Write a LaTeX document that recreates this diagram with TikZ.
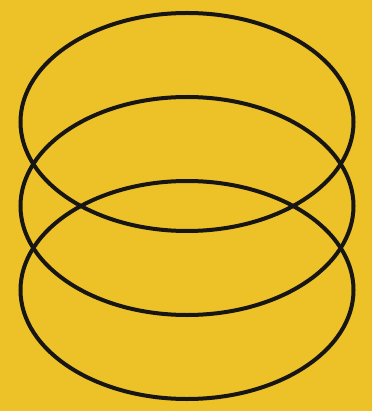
\documentclass[tikz,border=0pt]{standalone}
\definecolor{bgyellow}{RGB}{236,194,40}
\definecolor{ringcol}{RGB}{24,22,20}
\tikzset{ring/.style={draw=ringcol,line width=4pt}}
\begin{document}
\begin{tikzpicture}[x=1pt,y=-1pt]
\fill[bgyellow] (0,0) rectangle (372,411);
\useasboundingbox (0,0) rectangle (372,411);
\draw[ring] (187,122) ellipse [x radius=166.5,y radius=109];
\draw[ring] (187,206) ellipse [x radius=166.5,y radius=109];
\draw[ring] (187,290) ellipse [x radius=166.5,y radius=109];
\end{tikzpicture}
\end{document}
